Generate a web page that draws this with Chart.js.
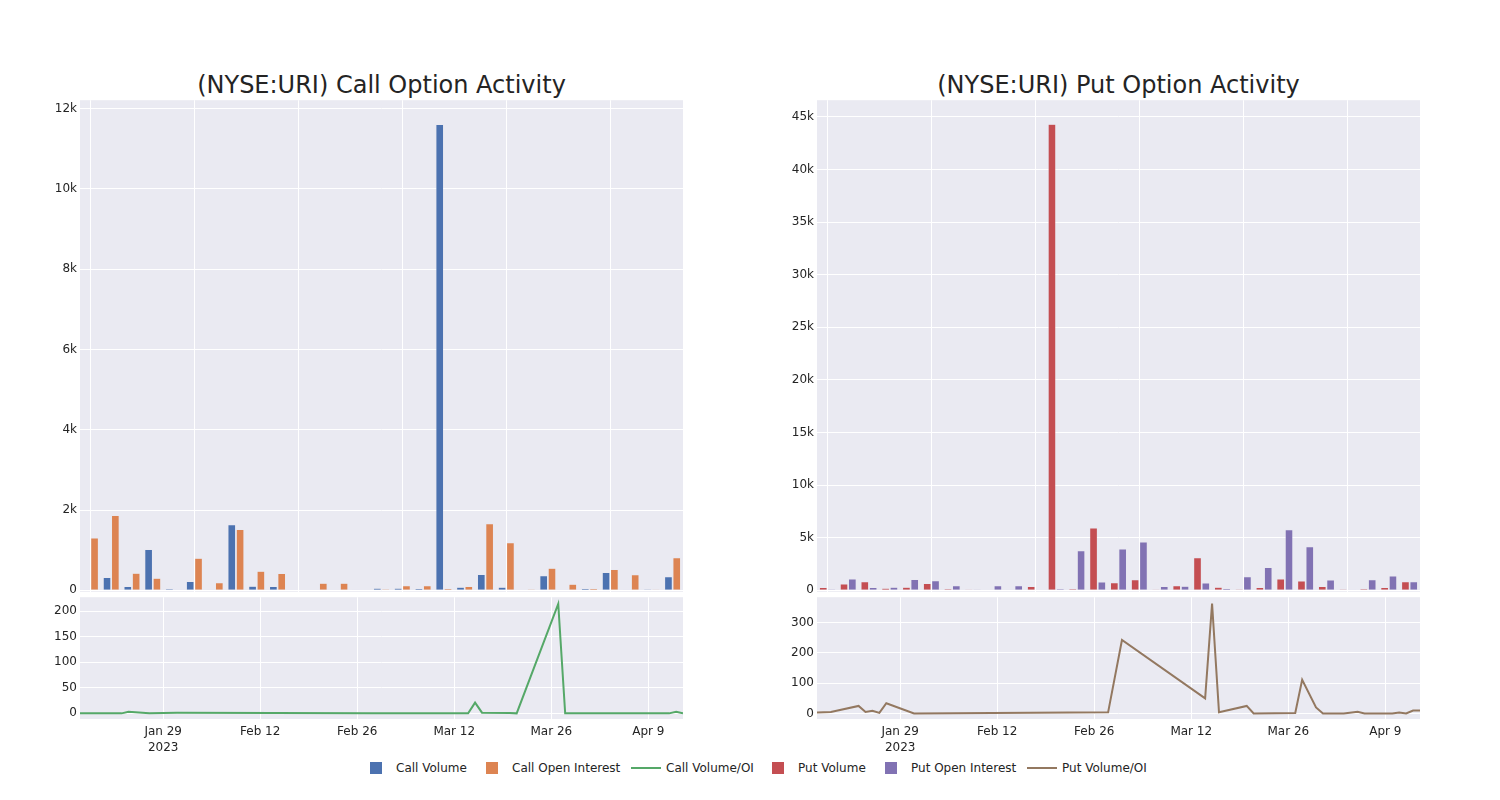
<!DOCTYPE html>
<html>
<head>
<meta charset="utf-8">
<script src="https://cdn.jsdelivr.net/npm/chart.js@4.4.0/dist/chart.umd.min.js"></script>
<style>
  html, body { margin:0; padding:0; background:#ffffff; }
  body { width:1500px; height:800px; position:relative; overflow:hidden; font-family:'DejaVu Sans', sans-serif; color:rgb(36,36,36); }
  canvas { position:absolute; }
  .title { position:absolute; top:71px; width:603px; text-align:center; font-size:24px; line-height:28px; white-space:nowrap; }
  .lg { position:absolute; top:760px; height:16px; font-size:12px; line-height:16px; white-space:nowrap; }
  .lg .sq { position:absolute; left:14px; top:2px; width:12px; height:12px; }
  .lg .ln { position:absolute; left:5px; top:7px; width:30px; height:2px; }
  .lg .tx { position:absolute; left:40px; top:0; }
</style>
</head>
<body>
<div class="title" style="left:80px;">(NYSE:URI) Call Option Activity</div>
<div class="title" style="left:817px;">(NYSE:URI) Put Option Activity</div>

<canvas id="callBars" width="693" height="512" style="left:0px;top:90px;"></canvas>
<canvas id="callLine" width="693" height="172" style="left:0px;top:587px;"></canvas>
<canvas id="putBars" width="693" height="512" style="left:737px;top:90px;"></canvas>
<canvas id="putLine" width="693" height="172" style="left:737px;top:587px;"></canvas>

<div class="lg" style="left:356px;"><span class="sq" style="background:#4C72B0"></span><span class="tx">Call Volume</span></div>
<div class="lg" style="left:472px;"><span class="sq" style="background:#DD8452"></span><span class="tx">Call Open Interest</span></div>
<div class="lg" style="left:626px;"><span class="ln" style="background:#55A868"></span><span class="tx">Call Volume/OI</span></div>
<div class="lg" style="left:758px;"><span class="sq" style="background:#C44E52"></span><span class="tx">Put Volume</span></div>
<div class="lg" style="left:871px;"><span class="sq" style="background:#8172B3"></span><span class="tx">Put Open Interest</span></div>
<div class="lg" style="left:1022px;"><span class="ln" style="background:#937860"></span><span class="tx">Put Volume/OI</span></div>

<script>
// ---------- DATA ----------
const categories = ['2023-01-17','2023-01-19','2023-01-23','2023-01-24','2023-01-25','2023-01-26','2023-01-27','2023-01-31','2023-02-14','2023-02-28','2023-03-02','2023-03-14','2023-03-15','2023-03-16','2023-03-20','2023-03-21','2023-03-23','2023-03-27','2023-03-28','2023-03-30','2023-03-31','2023-04-03','2023-04-05','2023-04-06','2023-04-10','2023-04-11','2023-04-12','2023-04-13','2023-04-14'];

const callVolume = [10,319,95,1016,37,219,10,1630,104,95,0,0,0,10,54,54,44,11600,79,393,79,15,361,0,44,443,10,25,336];
const callOpenInterest = [1300,1862,428,303,20,801,187,1513,477,418,15,179,179,0,30,112,112,44,95,1655,1182,25,552,154,44,518,386,8,809];

const putVolume = [266,590,808,209,304,647,143,20,0,76,361,44300,143,5915,713,998,20,428,3091,304,114,266,1065,875,361,114,143,266,808];
const putOpenInterest = [114,1065,266,304,1027,903,428,20,428,428,50,143,3756,780,3918,4584,361,399,685,171,1284,2168,5754,4137,970,70,998,1350,808];

// days after 2023-01-17
const ratioDays = [0,2,6,7,8,9,10,14,42,44,56,57,58,62,63,69,70,72,73,76,78,79,83,84,85,86,87];
const callRatio = [0,0,0,3,2,1,0,1,0,0,0,21,1.4,0.5,0,214,0,0,0,0,0,0,0,0,0,3,0];
const putRatio  = [3,5,25,5,9,2,34,0,4,242,50,362,4,25,0,2,111,20,0,0,6,0,0,3,0,10,10];

const dateTickDays = [12,26,40,54,68,82];
const dateTickLabels = [['Jan 29','2023'],'Feb 12','Feb 26','Mar 12','Mar 26','Apr 9'];

const callBarTicks = [0,2000,4000,6000,8000,10000,12000];
const callBarTickLabels = ['0','2k','4k','6k','8k','10k','12k'];
const putBarTicks = [0,5000,10000,15000,20000,25000,30000,35000,40000,45000];
const putBarTickLabels = ['0','5k','10k','15k','20k','25k','30k','35k','40k','45k'];
const callLineTicks = [0,50,100,150,200];
const putLineTicks = [0,100,200,300];

// ---------- STYLE ----------
Chart.defaults.font.family = "'DejaVu Sans', sans-serif";
Chart.defaults.font.size = 12;
Chart.defaults.color = 'rgb(36,36,36)';

const PLOT_BG = '#EAEAF2';
const bgPlugin = {
  id: 'plotBg',
  beforeDraw(c) {
    const a = c.chartArea, ctx = c.ctx;
    ctx.save();
    ctx.fillStyle = PLOT_BG;
    ctx.fillRect(a.left, a.top, a.right - a.left, a.bottom - a.top);
    ctx.restore();
  }
};

function yAxis(min, max, ticks, labels) {
  return {
    min: min, max: max,
    afterBuildTicks: s => { s.ticks = ticks.map(v => ({ value: v })); },
    afterFit: s => { s.width = 80; },
    grid: { color: '#ffffff', lineWidth: 1, drawTicks: false },
    border: { display: false },
    ticks: { padding: 3, callback: (v) => labels[ticks.indexOf(v)] }
  };
}

function barChart(id, d1, d2, c1, c2, yMin, yMax, ticks, labels) {
  new Chart(document.getElementById(id), {
    type: 'bar',
    data: {
      labels: categories,
      datasets: [
        { data: d1, backgroundColor: c1, borderColor: 'rgba(234,234,242,0.5)', borderWidth: 0.5, categoryPercentage: 0.8, barPercentage: 0.92 },
        { data: d2, backgroundColor: c2, borderColor: 'rgba(234,234,242,0.5)', borderWidth: 0.5, categoryPercentage: 0.8, barPercentage: 0.92 }
      ]
    },
    options: {
      responsive: false, animation: false, devicePixelRatio: 1,
      layout: { padding: { top: 10, bottom: 10, left: 0, right: 10 } },
      plugins: { legend: { display: false }, tooltip: { enabled: false } },
      scales: {
        x: {
          offset: true,
          grid: { offset: false, drawTicks: false, lineWidth: 1, color: c => (c.index % 5 === 0 ? '#ffffff' : 'rgba(0,0,0,0)') },
          border: { display: false },
          ticks: { display: false },
          afterFit: s => { s.height = 0; }
        },
        y: yAxis(yMin, yMax, ticks, labels)
      }
    },
    plugins: [bgPlugin]
  });
}

function lineChart(id, values, color, yMin, yMax, ticks) {
  new Chart(document.getElementById(id), {
    type: 'line',
    data: {
      datasets: [{
        data: ratioDays.map((d, i) => ({ x: d, y: values[i] })),
        borderColor: color, borderWidth: 2, pointRadius: 0, tension: 0, fill: false
      }]
    },
    options: {
      responsive: false, animation: false, devicePixelRatio: 1,
      layout: { padding: { top: 10, bottom: 0, left: 0, right: 10 } },
      plugins: { legend: { display: false }, tooltip: { enabled: false } },
      scales: {
        x: {
          type: 'linear', min: 0, max: 87,
          afterBuildTicks: s => { s.ticks = dateTickDays.map(v => ({ value: v })); },
          afterFit: s => { s.height = 40; },
          grid: { color: '#ffffff', lineWidth: 1, drawTicks: false },
          border: { display: false },
          ticks: { padding: 5, maxRotation: 0, autoSkip: false, font: { lineHeight: 1.35 }, callback: (v) => dateTickLabels[dateTickDays.indexOf(v)] }
        },
        y: yAxis(yMin, yMax, ticks, ticks.map(String))
      }
    },
    plugins: [bgPlugin]
  });
}

barChart('callBars', callVolume, callOpenInterest, '#4C72B0', '#DD8452', -37, 12206, callBarTicks, callBarTickLabels);
barChart('putBars', putVolume, putOpenInterest, '#C44E52', '#8172B3', -140, 46584, putBarTicks, putBarTickLabels);
lineChart('callLine', callRatio, '#55A868', -11, 227, callLineTicks);
lineChart('putLine', putRatio, '#937860', -18, 383, putLineTicks);
</script>
</body>
</html>
